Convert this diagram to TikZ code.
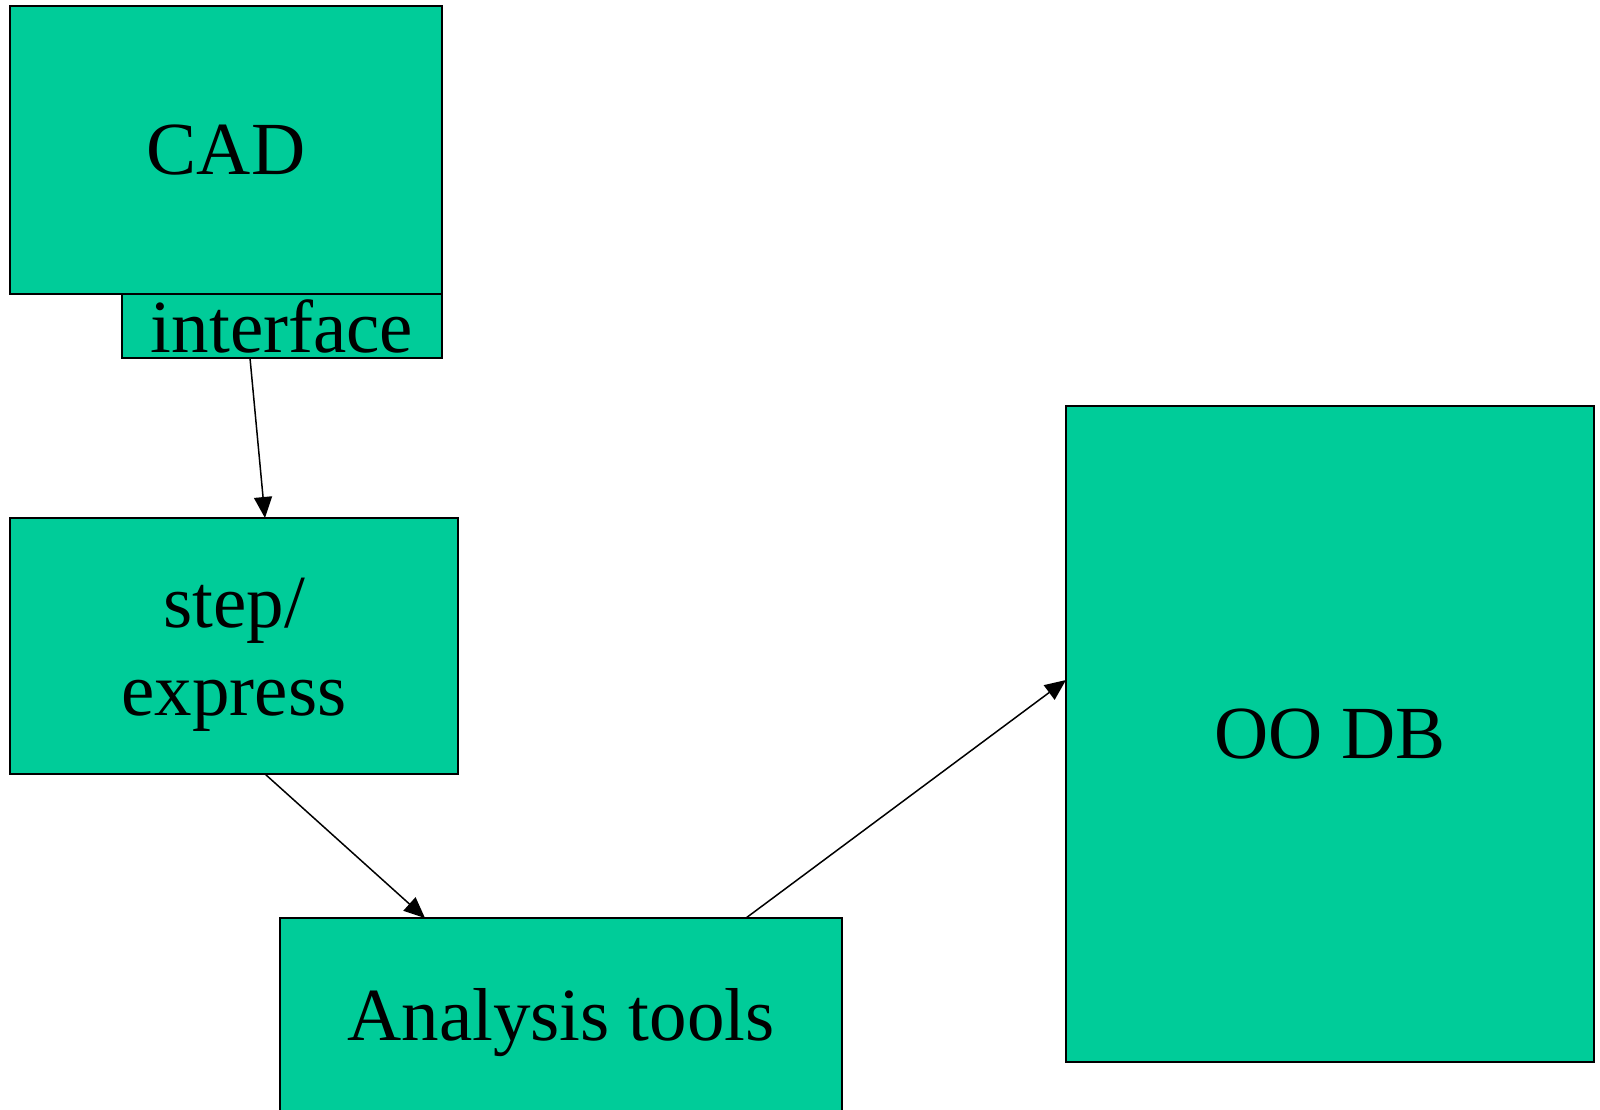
\documentclass[tikz,border=0pt]{standalone}
\usepackage{fontspec}
\setmainfont{Liberation Serif}
\usepackage{xcolor}
\usepackage{tikz}
\usetikzlibrary{positioning,calc,arrows.meta}

\definecolor{boxgreen}{HTML}{00CC99}

\begin{document}
\begin{tikzpicture}[x=0.5pt, y=-0.5pt,
		boxtext/.style={align=center, inner sep=0, font=\fontsize{37.5}{44}\selectfont},
		box/.style={draw=black, fill=boxgreen, line width=1pt, inner sep=0, outer sep=0, boxtext},
		arr/.style={-{Triangle[length=10.5pt, width=9pt]}, line width=0.75pt}]
	\useasboundingbox (0,0) rectangle (1600,1109);
	\node[box, minimum width=216pt, minimum height=144pt] (cad) at (226,150) {CAD};
	\node[box, minimum width=160pt, minimum height=32pt] (iface) at (282,326) {interface};
	\node[box, minimum width=224pt, minimum height=128pt,
		label={[boxtext, yshift=-4.5pt]center:step/\\express}] (stepx) at (234,646) {};
	\node[box, minimum width=281pt, minimum height=105pt] (tools) at (561,1023) {Analysis tools};
	\node[box, minimum width=264pt, minimum height=328pt] (oodb) at (1330,734) {OO DB};
	% connectors
	\draw[arr] ([xshift=-16pt]iface.south) -- ([xshift=15.5pt]stepx.north);
	\draw[arr] ([xshift=15.5pt]stepx.south) -- ([xshift=-68pt]tools.north);
	\draw[arr] ([xshift=92.5pt]tools.north) -- ([yshift=27pt]oodb.west);
\end{tikzpicture}
\end{document}
